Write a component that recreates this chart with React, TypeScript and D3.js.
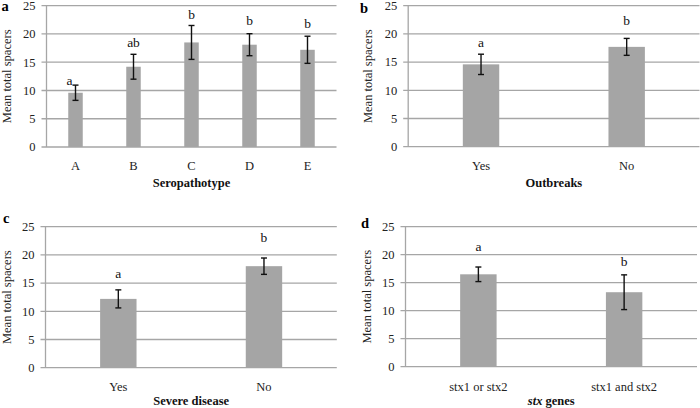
import React from "react";
import * as d3 from "d3";

// ---- Data ----
const seroCategories = ["A", "B", "C", "D", "E"];
const seroMeans = [9.6, 14.2, 18.5, 18.1, 17.2];
const seroErrors = [1.35, 2.2, 3.0, 1.95, 2.4];
const seroLetters = ["a", "ab", "b", "b", "b"];
const seroLetterY = [10.95, 17.75, 22.65, 21.6, 21.1];

const outbreakCategories = ["Yes", "No"];
const outbreakMeans = [14.6, 17.7];
const outbreakErrors = [1.8, 1.5];
const outbreakLetters = ["a", "b"];
const outbreakLetterY = [17.7, 21.6];

const severeCategories = ["Yes", "No"];
const severeMeans = [12.2, 18.0];
const severeErrors = [1.6, 1.45];
const severeLetters = ["a", "b"];
const severeLetterY = [15.85, 22.2];

const stxCategories = ["stx1 or stx2", "stx1 and stx2"];
const stxMeans = [16.5, 13.3];
const stxErrors = [1.3, 3.1];
const stxLetters = ["a", "b"];
const stxLetterY = [20.66, 17.97];

const yTicks = [0, 5, 10, 15, 20, 25];
const yTitle = "Mean total spacers";

const FONT = "'Liberation Serif', 'Times New Roman', serif";
const GRID = "#a6a6a6";
const BAR = "#a5a5a5";

type PanelProps = {
  letter: string;
  left: number;
  right: number;
  top: number;
  bottom: number;
  categories: string[];
  means: number[];
  errors: number[];
  letters: string[];
  letterY: number[];
  letterDx?: number[];
  xTitle: React.ReactNode;
  letterPos: [number, number];
  yTitleX: number;
  tickBaseline: number;
  titleBaseline: number;
};

function Panel(p: PanelProps) {
  const y = d3.scaleLinear().domain([0, 25]).range([p.bottom, p.top]);
  const x = d3
    .scaleBand<string>()
    .domain(p.categories)
    .range([p.left, p.right])
    .paddingInner(0.75)
    .paddingOuter(0.375);
  const bw = x.bandwidth();
  const cap = 3;
  return (
    <g>
      {yTicks.map((t) => (
        <g key={t}>
          <line x1={p.left - 5} x2={p.right} y1={y(t)} y2={y(t)} stroke={GRID} strokeWidth={1.3} />
          <text
            x={p.left - 11}
            y={y(t)}
            dy="0.35em"
            textAnchor="end"
            fontSize={12.5}
            fontFamily={FONT}
            fill="#222"
          >
            {t}
          </text>
        </g>
      ))}
      <line x1={p.left} x2={p.left} y1={p.top} y2={p.bottom} stroke={GRID} strokeWidth={1.3} />
      {p.categories.map((c, i) => {
        const cx = (x(c) as number) + bw / 2;
        const hi = y(p.means[i] + p.errors[i]);
        const lo = y(p.means[i] - p.errors[i]);
        return (
          <g key={c}>
            <rect x={x(c)} y={y(p.means[i])} width={bw} height={y(0) - y(p.means[i])} fill={BAR} />
            <line x1={cx} x2={cx} y1={hi} y2={lo} stroke="#111" strokeWidth={1.4} />
            <line x1={cx - cap} x2={cx + cap} y1={hi} y2={hi} stroke="#111" strokeWidth={1.4} />
            <line x1={cx - cap} x2={cx + cap} y1={lo} y2={lo} stroke="#111" strokeWidth={1.4} />
            <text
              x={cx + (p.letterDx ? p.letterDx[i] : 0)}
              y={y(p.letterY[i])}
              textAnchor="middle"
              fontSize={13.5}
              fontFamily={FONT}
              fill="#111"
            >
              {p.letters[i]}
            </text>
            <text
              x={cx}
              y={p.tickBaseline}
              textAnchor="middle"
              fontSize={12.5}
              fontFamily={FONT}
              fill="#222"
            >
              {c}
            </text>
          </g>
        );
      })}
      <text
        transform={`translate(${p.yTitleX},${(p.top + p.bottom) / 2}) rotate(-90)`}
        textAnchor="middle"
        fontSize={12.5}
        fontFamily={FONT}
        fill="#222"
      >
        {yTitle}
      </text>
      <text
        x={(p.left + p.right) / 2}
        y={p.titleBaseline}
        textAnchor="middle"
        fontSize={12.5}
        fontWeight="bold"
        fontFamily={FONT}
        fill="#111"
      >
        {p.xTitle}
      </text>
      <text
        x={p.letterPos[0]}
        y={p.letterPos[1]}
        fontSize={14.5}
        fontWeight="bold"
        fontFamily={FONT}
        fill="#000"
      >
        {p.letter}
      </text>
    </g>
  );
}

export default function App() {
  return (
    <svg
      width={700}
      height={408}
      style={{ position: "absolute", left: 0, top: 0, background: "#fff" }}
    >
      <rect width={700} height={408} fill="#fff" />
      <Panel
        letter="a"
        left={46.5}
        right={336.5}
        top={5.7}
        bottom={147}
        categories={seroCategories}
        means={seroMeans}
        errors={seroErrors}
        letters={seroLetters}
        letterY={seroLetterY}
        letterDx={[-6, 0, 0, 0, 0]}
        xTitle="Seropathotype"
        letterPos={[1.5, 11]}
        yTitleX={10.5}
        tickBaseline={170}
        titleBaseline={186.6}
      />
      <Panel
        letter="b"
        left={408.2}
        right={699.5}
        top={5.7}
        bottom={146.7}
        categories={outbreakCategories}
        means={outbreakMeans}
        errors={outbreakErrors}
        letters={outbreakLetters}
        letterY={outbreakLetterY}
        xTitle="Outbreaks"
        letterPos={[360, 13.3]}
        yTitleX={372}
        tickBaseline={170}
        titleBaseline={186.7}
      />
      <Panel
        letter="c"
        left={45.5}
        right={336.8}
        top={226.7}
        bottom={367.7}
        categories={severeCategories}
        means={severeMeans}
        errors={severeErrors}
        letters={severeLetters}
        letterY={severeLetterY}
        xTitle="Severe disease"
        letterPos={[3, 222.7]}
        yTitleX={11}
        tickBaseline={391}
        titleBaseline={405}
      />
      <Panel
        letter="d"
        left={405.5}
        right={697}
        top={226.7}
        bottom={366.7}
        categories={stxCategories}
        means={stxMeans}
        errors={stxErrors}
        letters={stxLetters}
        letterY={stxLetterY}
        xTitle={
          <>
            <tspan fontStyle="italic">stx</tspan> genes
          </>
        }
        letterPos={[361, 228.3]}
        yTitleX={371}
        tickBaseline={390.7}
        titleBaseline={405}
      />
    </svg>
  );
}
